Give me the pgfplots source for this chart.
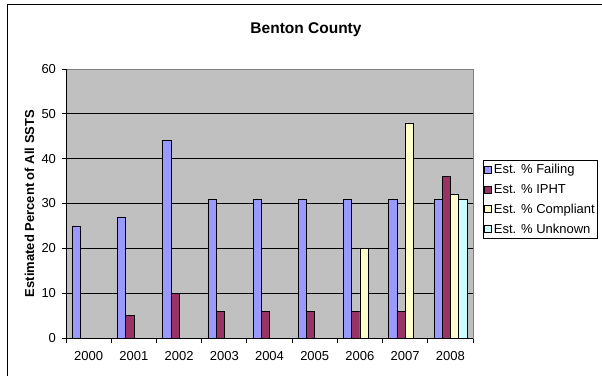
\documentclass[border=0pt]{standalone}
\usepackage{fontspec}
\setmainfont{Liberation Sans}
\usepackage{pgfplots}
\pgfplotsset{compat=1.18}
\definecolor{failing}{HTML}{9999FF}
\definecolor{ipht}{HTML}{993366}
\definecolor{compliant}{HTML}{FFFFCC}
\definecolor{unknown}{HTML}{CCFFFF}
\definecolor{plotbg}{HTML}{C0C0C0}
\definecolor{frameg}{HTML}{808080}
\begin{document}
\begin{tikzpicture}
\useasboundingbox (0pt,0pt) rectangle (602pt,375pt);
% chart frame
\draw[black, line width=1pt] (605pt,370pt) -- (7pt,370pt) -- (7pt,-3pt);
\node[anchor=base, font=\bfseries\fontsize{15.5}{18}\selectfont] at (306pt,341pt) {Benton County};
\node[rotate=90, font=\bfseries\fontsize{13}{15}\selectfont] at (29.5pt,171.5pt) {Estimated Percent of All SSTS};
\begin{axis}[
  at={(66pt,37pt)}, anchor=south west,
  scale only axis, width=407pt, height=269pt,
  ybar=0pt, bar width=0.182,
  xmin=-0.5, xmax=8.5, ymin=0, ymax=60,
  xtick={0,...,8},
  xticklabels={2000,2001,2002,2003,2004,2005,2006,2007,2008},
  major x tick style={draw=none},
  minor xtick={-0.5,0.5,...,8.5},
  minor tick length=5pt,
  ytick={0,10,...,60},
  major tick length=4pt,
  tick align=outside, tick pos=left,
  tick style={black, line width=0.8pt},
  ymajorgrids, major grid style={black, line width=0.8pt},
  axis line style={frameg, line width=0.8pt},
  axis background/.style={fill=plotbg},
  /pgf/number format/assume math mode=true,
  ticklabel style={font=\fontsize{13}{15}\selectfont},
  xticklabel style={yshift=-6pt},
  yticklabel style={xshift=-2.5pt},
  every axis plot/.append style={draw=black, line width=0.6pt},
  legend style={at={(1.0246,0.662)}, anchor=north west, draw=black, line width=0.8pt,
    fill=white, font=\fontsize{13}{15}\selectfont, row sep=5pt,
    inner xsep=1pt, inner ysep=2pt, legend cell align=left,
    nodes={inner xsep=2pt}},
  legend image code/.code={\draw[#1, line width=0.5pt] (0pt,-3.5pt) rectangle (7pt,3.5pt);},
]
\draw[black, line width=0.9pt] (axis cs:-0.5,60) -- (axis cs:-0.5,0) -- (axis cs:8.5,0);
\addplot[fill=failing] coordinates {(0,25) (1,27) (2,44) (3,31) (4,31) (5,31) (6,31) (7,31) (8,31)};
\addplot[fill=ipht] coordinates {(1,5) (2,10) (3,6) (4,6) (5,6) (6,6) (7,6) (8,36)};
\addplot[fill=compliant] coordinates {(6,20) (7,48) (8,32)};
\addplot[fill=unknown] coordinates {(8,31)};
\legend{Est. \% Failing, Est. \% IPHT, Est. \% Compliant, Est. \% Unknown}
\end{axis}
\end{tikzpicture}
\end{document}
